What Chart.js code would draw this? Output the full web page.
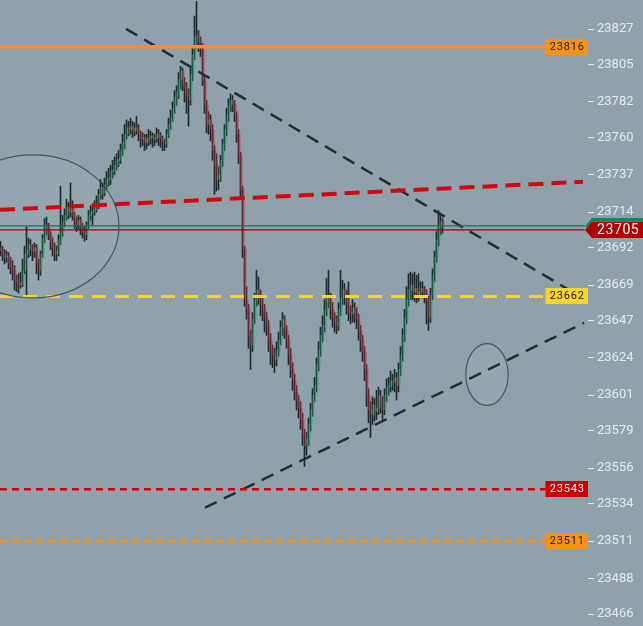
<!DOCTYPE html>
<html><head><meta charset="utf-8">
<script src="https://cdn.jsdelivr.net/npm/chart.js@4.4.1/dist/chart.umd.min.js"></script>
<style>html,body{margin:0;padding:0;background:#8fa2ac;overflow:hidden}
#wrap{width:643px;height:626px;position:relative}</style>
</head><body><div id="wrap"><canvas id="c"></canvas></div>
<script>
// ---- data ----
const opens=[23692,23690,23688,23686,23687,23683,23680,23678,23672,23670,23669,
23671,23678,23688,23691,23694,23691,23690,23692,23683,23678,
23688,23698,23706,23704,23700,23695,23692,23688,23690,
23697,23702,23708,23712,23717,23714,23718,23712,
23708,23706,23709,23704,23702,23700,23706,23712,23714,23715,23717,
23718,23725,23729,23726,23731,23735,23734,23739,23740,23743,23746,23747,
23752,23757,23762,23766,23765,23767,23764,23766,23765,23762,23759,23760,23757,
23759,23760,23761,23759,23760,23762,23760,23759,23757,23756,
23762,23768,23772,23778,23785,23788,23796,23801,23793,23790,23786,23783,23799,23811,23822,23823,23819,
23815,23796,23780,23768,23771,23765,23752,23743,23734,23737,23746,23756,23765,23774,23780,23783,23781,23774,23762,23749,
23728,23691,23660,23654,23638,23632,23648,23660,23666,23663,23657,23654,23649,23644,23635,23629,23626,23623,23629,23635,23643,23648,23641,23635,23626,23617,23610,23603,23598,23593,
23586,23577,23570,23574,23583,23592,23601,23607,23620,23629,23638,23644,23654,23661,23660,23654,23649,23646,23644,23654,
23661,23666,23663,23657,23652,23651,23655,23652,23648,23641,23635,23628,23617,23601,23592,23589,23595,23591,23593,23601,23597,23592,23601,23606,23607,23610,23609,23612,23607,23617,
23626,23638,23649,23660,23666,23669,23665,23667,23663,23665,23667,23666,23663,23660,23649,23663,23675,23686,23697,23706,23708];
const highs=[23696,23693,23691,23690,23689,23686,23684,23681,23675,23676,23677,
23685,23693,23705,23698,23697,23694,23695,23694,23685,23690,
23700,23710,23711,23707,23702,23698,23695,23693,23700,
23730,23712,23716,23722,23720,23732,23721,23714,
23711,23712,23711,23707,23705,23708,23715,23718,23719,23721,23724,
23728,23734,23732,23735,23739,23741,23743,23746,23748,23750,23752,23756,
23762,23768,23771,23770,23772,23770,23769,23773,23768,23764,23763,23762,23762,
23765,23764,23763,23762,23766,23765,23763,23761,23759,23765,
23772,23777,23782,23789,23792,23800,23804,23803,23797,23794,23790,23803,23816,23835,23844,23826,23822,
23818,23798,23783,23776,23774,23768,23755,23750,23742,23749,23759,23768,23778,23784,23787,23786,23783,23776,23765,23751,
23730,23693,23668,23657,23641,23652,23664,23678,23674,23666,23661,23657,23652,23647,23639,23632,23630,23634,23640,23647,23652,23650,23644,23638,23630,23621,23614,23607,23601,23597,
23590,23580,23578,23587,23596,23605,23612,23624,23634,23643,23650,23660,23673,23678,23664,23658,23652,23650,23658,23678,
23672,23670,23666,23671,23656,23660,23658,23655,23651,23644,23638,23631,23620,23605,23597,23600,23599,23604,23606,23604,23600,23605,23611,23612,23616,23614,23617,23615,23621,23631,
23642,23654,23668,23676,23677,23676,23677,23675,23676,23671,23671,23668,23666,23662,23667,23679,23690,23702,23715,23712,23710];
const lows=[23687,23684,23682,23683,23679,23676,23672,23666,23665,23664,23667,
23668,23676,23662,23686,23687,23684,23686,23676,23672,23675,
23686,23695,23700,23697,23691,23687,23684,23684,23687,
23694,23699,23705,23709,23710,23711,23709,23704,
23702,23703,23700,23698,23696,23697,23704,23709,23706,23712,23714,
23716,23722,23722,23724,23728,23730,23731,23735,23737,23740,23742,23744,
23749,23753,23759,23761,23762,23760,23761,23762,23758,23754,23755,23752,23753,
23755,23756,23754,23755,23757,23755,23754,23752,23752,23754,
23760,23765,23770,23775,23780,23784,23790,23789,23782,23775,23767,23780,23795,23808,23815,23813,23810,
23792,23775,23763,23762,23758,23746,23725,23727,23728,23733,23742,23752,23761,23770,23776,23776,23770,23757,23744,23722,
23686,23656,23648,23630,23617,23628,23645,23656,23657,23650,23647,23640,23638,23628,23620,23618,23615,23619,23625,23632,23638,23636,23630,23620,23612,23604,23598,23592,23587,23580,
23570,23557,23564,23570,23579,23588,23597,23603,23616,23625,23634,23640,23650,23655,23648,23643,23640,23639,23641,23650,
23657,23657,23651,23647,23645,23646,23646,23642,23635,23628,23622,23610,23594,23584,23575,23583,23585,23586,23589,23590,23586,23589,23597,23601,23603,23604,23603,23598,23603,23613,
23622,23634,23645,23656,23660,23660,23659,23658,23659,23661,23661,23658,23645,23641,23646,23660,23671,23683,23693,23700,23701];
const closes=[23690,23688,23686,23687,23683,23680,23678,23672,23670,23669,23671,
23678,23688,23691,23694,23691,23690,23692,23683,23678,23688,
23698,23706,23704,23700,23695,23692,23688,23690,23697,
23702,23708,23712,23717,23714,23718,23712,23708,
23706,23709,23704,23702,23700,23706,23712,23714,23715,23717,23718,
23725,23729,23726,23731,23735,23734,23739,23740,23743,23746,23747,23752,
23757,23762,23766,23765,23767,23764,23766,23765,23762,23759,23760,23757,23759,
23760,23761,23759,23760,23762,23760,23759,23757,23756,23762,
23768,23772,23778,23785,23788,23796,23801,23793,23790,23786,23783,23799,23811,23822,23823,23819,23815,
23796,23780,23768,23771,23765,23752,23743,23734,23737,23746,23756,23765,23774,23780,23783,23781,23774,23762,23749,23728,
23691,23660,23654,23638,23632,23648,23660,23666,23663,23657,23654,23649,23644,23635,23629,23626,23623,23629,23635,23643,23648,23641,23635,23626,23617,23610,23603,23598,23593,23586,
23577,23570,23574,23583,23592,23601,23607,23620,23629,23638,23644,23654,23661,23660,23654,23649,23646,23644,23654,23661,
23666,23663,23657,23652,23651,23655,23652,23648,23641,23635,23628,23617,23601,23592,23589,23595,23591,23593,23601,23597,23592,23601,23606,23607,23610,23609,23612,23607,23617,23626,
23638,23649,23660,23666,23669,23665,23667,23663,23665,23667,23666,23663,23660,23649,23663,23675,23686,23697,23706,23708,23705];

const yTickLabels=[23827,23805,23782,23760,23737,23714,23692,23669,23647,23624,23601,23579,23556,23534,23511,23488,23466];

const levelPrices=[23816,23662,23543,23511];
const bidLinePrice=23703, askLinePrice=23705.5, lastPriceText='23705';

// trend lines: [x(bar index), price] start / end
const redTrend=[[-0.25,23715.4],[291.25,23732.7]];
const downTrend=[[62.75,23827.1],[286.75,23664.2]];
const upTrend=[[102.25,23531.6],[291.75,23645.7]];

// ellipses: centre (bar index, price) and radii (bars, price)
const ellipseCx=[16.25,243.25], ellipseCy=[23705.2,23613.8], ellipseRx=[43,10.6], ellipseRy=[44.1,19.1];

// ---- styles ----
const BG='#8fa2ac', UP='#22a86b', DN='#dc3040', WICK='#1f2a30';
const levelStyle=[
 {color:'#f7931a',width:3.5,dash:[],box:'#f7931a',text:'#1b1b1b'},
 {color:'#f6d22a',width:3,dash:[14,9],box:'#f7d42c',text:'#1b1b1b'},
 {color:'#d40000',width:2.5,dash:[7,5],box:'#cc0000',text:'#ffffff'},
 {color:'#f7931a',width:2.5,dash:[7,5],box:'#f7931a',text:'#1b1b1b'}
];
const LABEL_X=272.5, END_X=292;

const wickData=opens.map((o,i)=>({x:i,y:[lows[i],highs[i]]}));
const bodyData=opens.map((o,i)=>({x:i+0.5,y:[o,closes[i]]}));
const bodyColors=opens.map((o,i)=>closes[i]>=o?UP:DN);

const lineDs=(pts,color,width,dash)=>({type:'line',data:pts.map(p=>({x:p[0],y:p[1]})),borderColor:color,borderWidth:width,borderDash:dash,pointRadius:0,fill:false,order:0,borderCapStyle:'butt'});

const datasets=[];
levelPrices.forEach((p,k)=>{const s=levelStyle[k];datasets.push(lineDs([[-0.25,p],[LABEL_X,p]],s.color,s.width,s.dash));});
datasets.push(lineDs([[-0.25,askLinePrice],[END_X,askLinePrice]],'#16705a',1.2,[]));
datasets.push(lineDs([[-0.25,bidLinePrice],[END_X,bidLinePrice]],'#8e0a0a',1.2,[]));
datasets.push(lineDs(redTrend,'#d00a0a',4,[15,8]));
datasets.push(lineDs(downTrend,'#222c33',2.5,[13,8]));
datasets.push(lineDs(upTrend,'#222c33',2.5,[13,8]));
datasets.push({type:'bar',data:bodyData,backgroundColor:bodyColors,barThickness:1,minBarLength:1,grouped:false,order:1,borderWidth:0});
datasets.push({type:'bar',data:wickData,backgroundColor:WICK,barThickness:1,minBarLength:1,grouped:false,order:2,borderWidth:0});

const overlay={
 id:'overlay',
 beforeDraw(chart){const c=chart.ctx;c.save();c.fillStyle=BG;c.fillRect(0,0,chart.width,chart.height);c.restore();},
 beforeDatasetsDraw(chart){
  const c=chart.ctx,xs=chart.scales.x,ys=chart.scales.y;c.save();
  for(let k=0;k<ellipseCx.length;k++){
   const cx=xs.getPixelForValue(ellipseCx[k]),cy=ys.getPixelForValue(ellipseCy[k]);
   const rx=Math.abs(xs.getPixelForValue(ellipseCx[k]+ellipseRx[k])-cx),ry=Math.abs(ys.getPixelForValue(ellipseCy[k]+ellipseRy[k])-cy);
   c.beginPath();c.ellipse(cx,cy,rx,ry,0,0,Math.PI*2);c.fillStyle='rgba(255,255,255,0.05)';c.fill();
  }
  c.restore();
 },
 afterDatasetsDraw(chart){
  const c=chart.ctx,xs=chart.scales.x,ys=chart.scales.y,ca=chart.chartArea;c.save();
  for(let k=0;k<ellipseCx.length;k++){
   const cx=xs.getPixelForValue(ellipseCx[k]),cy=ys.getPixelForValue(ellipseCy[k]);
   const rx=Math.abs(xs.getPixelForValue(ellipseCx[k]+ellipseRx[k])-cx),ry=Math.abs(ys.getPixelForValue(ellipseCy[k]+ellipseRy[k])-cy);
   c.beginPath();c.ellipse(cx,cy,rx,ry,0,0,Math.PI*2);c.strokeStyle='rgba(52,64,72,0.8)';c.lineWidth=1.2;c.stroke();
  }
  const x0=xs.getPixelForValue(LABEL_X);
  c.font='11px Roboto';c.textAlign='center';c.textBaseline='middle';
  try{c.letterSpacing='0.8px';}catch(e){}
  levelPrices.forEach((p,k)=>{
   const s=levelStyle[k],y=Math.round(ys.getPixelForValue(p));
   c.fillStyle=s.box;c.fillRect(x0,y-8,ca.right-x0,16);
   c.fillStyle=s.text;c.fillText(String(p),(x0+ca.right)/2+0.5,y+0.5);
  });
  c.restore();
 },
 afterDraw(chart){
  const c=chart.ctx,ys=chart.scales.y,ca=chart.chartArea,W=chart.width;c.save();
  const ya=ys.getPixelForValue(askLinePrice),yb=ys.getPixelForValue(bidLinePrice),tip=ca.right-3;
  const shape=(y,col)=>{c.beginPath();c.moveTo(tip,y);c.lineTo(tip+7,y-8);c.lineTo(W,y-8);c.lineTo(W,y+8);c.lineTo(tip+7,y+8);c.closePath();c.fillStyle=col;c.fill();};
  shape(ya,'#0e8a5c');shape(yb,'#b00000');
  c.font='14px Roboto';c.fillStyle='#ffffff';c.textAlign='left';c.textBaseline='middle';
  try{c.letterSpacing='0.6px';}catch(e){}
  c.fillText(lastPriceText,ca.right+9,yb+1);
  c.restore();
 }
};

new Chart(document.getElementById('c'),{
 type:'bar',
 data:{datasets},
 options:{
  responsive:true,maintainAspectRatio:false,animation:false,devicePixelRatio:1,
  layout:{padding:0},
  plugins:{legend:{display:false},tooltip:{enabled:false}},
  scales:{
   x:{type:'linear',min:-0.25,max:293.75,display:false,offset:false},
   y:{type:'linear',position:'right',min:23458.6,max:23844.9,
    afterBuildTicks:s=>{s.ticks=yTickLabels.map(v=>({value:v}));},
    afterFit:s=>{s.width=55;s.paddingTop=0;s.paddingBottom=0;},
    grid:{display:true,drawOnChartArea:false,drawTicks:true,tickLength:6,color:'#e4eaee',tickColor:'#e4eaee',tickWidth:1},
    border:{display:false},
    ticks:{color:'#e4eaee',font:{family:'Roboto',size:13},padding:3,callback:v=>String(v),autoSkip:false}
   }
  }
 },
 plugins:[overlay]
});
</script></body></html>
